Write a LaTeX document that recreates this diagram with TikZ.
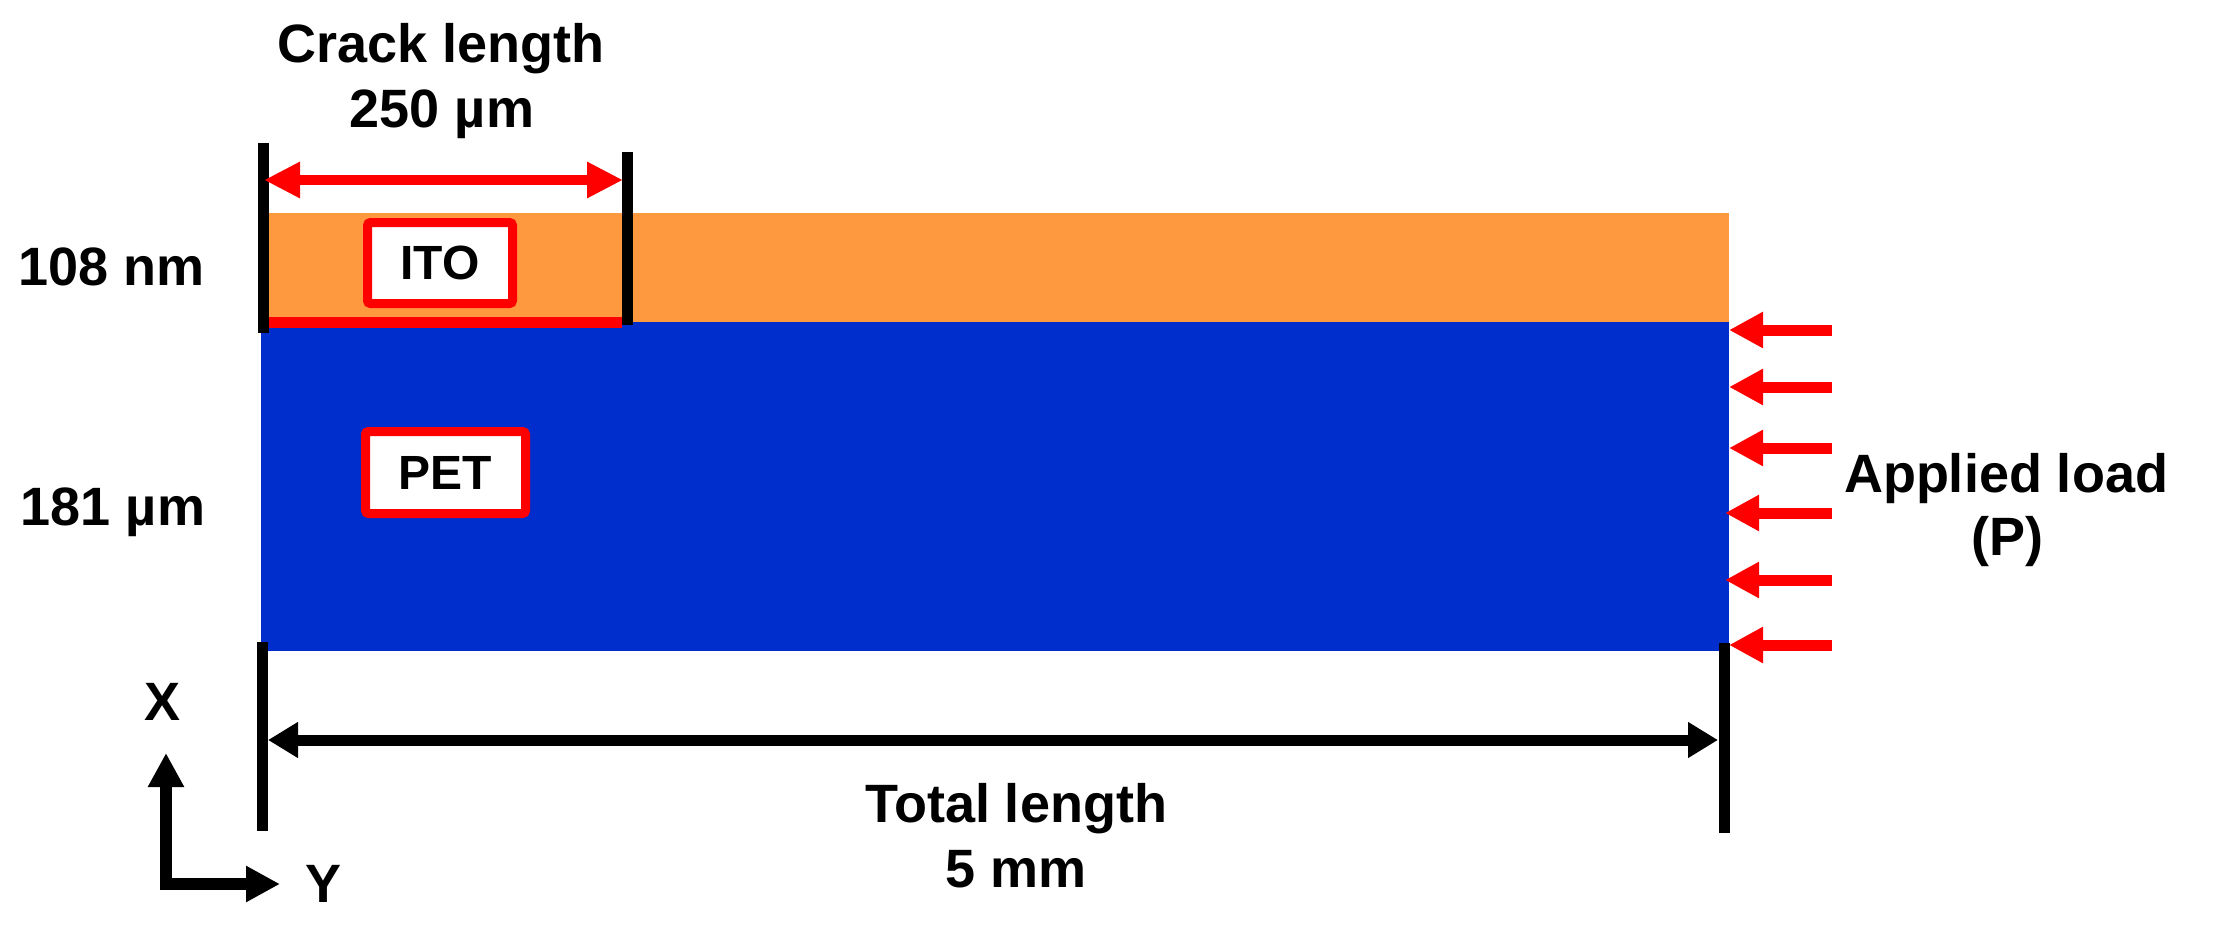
\documentclass[tikz,border=0pt]{standalone}
\usepackage{fontspec}
\setmainfont{Liberation Sans}
\usetikzlibrary{arrows.meta}
\definecolor{itoorange}{RGB}{255,153,64}
\definecolor{petblue}{RGB}{0,46,204}
\begin{document}
\begin{tikzpicture}[x=0.5pt,y=-0.5pt,
  lbl/.style={font=\fontsize{27}{32}\selectfont\bfseries, inner sep=0pt, anchor=base},
  tag/.style={draw=red, line width=4.5pt, fill=white, inner sep=0pt,
    font=\fontsize{24}{28}\selectfont\bfseries, rounded corners=1.5pt},
  tick/.style={line width=5.5pt, black},
  redarr/.style={red, line width=5.5pt, -{Triangle[length=17pt,width=17pt]}},
  dimred/.style={red, line width=5pt, {Triangle[length=18pt,width=17pt]}-{Triangle[length=18pt,width=17pt]}},
  dimblack/.style={black, line width=5.5pt, {Triangle[length=15pt,width=17pt]}-{Triangle[length=15pt,width=17pt]}},
  axisarr/.style={black, line width=6pt, miter limit=10, {Triangle[length=17pt,width=17pt]}-{Triangle[length=17pt,width=17pt]}}
]
\useasboundingbox (0,0) rectangle (2217,926);

% layers
\fill[itoorange] (261,213) rectangle (1729,322);
\fill[petblue] (261,322) rectangle (1729,651);

% crack line
\coordinate (c1) at (261,322.5);
\coordinate (c2) at (622,322.5);
\draw[red, line width=5.5pt] (c1) -- (c2);

% ticks
\coordinate (tl1) at (263,143); \coordinate (tl2) at (263,333);
\coordinate (tr1) at (627,152); \coordinate (tr2) at (627,325);
\coordinate (bl1) at (262,642); \coordinate (bl2) at (262,831);
\coordinate (br1) at (1724,643); \coordinate (br2) at (1724,833);
\draw[tick] (tl1) -- (tl2);
\draw[tick] (tr1) -- (tr2);
\draw[tick] (bl1) -- (bl2);
\draw[tick] (br1) -- (br2);

% crack dimension
\coordinate (ca) at (264,180);
\coordinate (cb) at (623,180);
\draw[dimred] (ca) -- (cb);
\node[lbl] (crack1) at (441,62) {Crack length};
\node[lbl] (crack2) at (442,127) {250 µm};

% total dimension
\coordinate (ta) at (268,740);
\coordinate (tb) at (1718,740);
\draw[dimblack] (ta) -- (tb);
\node[lbl] (tot1) at (1016,822) {Total length};
\node[lbl] (tot2) at (1016,887) {5 mm};

% material tags
\node[tag, minimum width=72.5pt, minimum height=40.5pt] (ito) at (440,263) {ITO};
\node[tag, minimum width=80pt, minimum height=41pt] (pet) at (445.5,472.5) {PET};

% thickness labels
\node[lbl] (t108) at (112,285) {108 nm};
\node[lbl] (t181) at (113,525) {181 µm};

% applied load arrows
\foreach \i/\y/\t in {1/330/1729, 2/387/1729, 3/448/1729, 4/513/1725, 5/580/1725, 6/645/1729} {
  \coordinate (ls\i) at (1832,\y);
  \coordinate (le\i) at (\t,\y);
  \draw[redarr] (ls\i) -- (le\i);
}
\node[lbl] (load1) at (2006,492) {Applied load};
\node[lbl] (load2) at (2007,555) {(P)};

% axes
\coordinate (ax) at (166,753);
\coordinate (ao) at (166,884);
\coordinate (ay) at (280,884);
\draw[axisarr] (ax) -- (ao) -- (ay);
\node[lbl] (xl) at (163,720) {X};
\node[lbl] (yl) at (324,902) {Y};
\end{tikzpicture}
\end{document}
